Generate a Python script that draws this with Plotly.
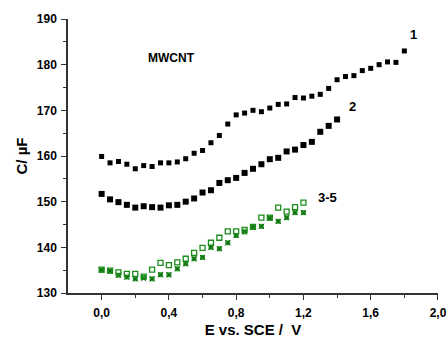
import plotly.graph_objects as go

x1 = [round(0.05 * i, 2) for i in range(37)]
c1 = [159.9, 158.5, 158.8, 158.2, 157.2, 157.9, 157.7, 158.5, 158.5, 158.7,
      159.4, 160.6, 161.2, 162.9, 164.5, 167.0, 169.0, 169.4, 170.0, 169.7,
      170.5, 171.3, 171.4, 172.8, 172.7, 173.1, 173.5, 174.8, 176.7, 177.4,
      177.6, 178.7, 179.2, 180.0, 180.6, 180.5, 183.0]

x2 = [round(0.05 * i, 2) for i in range(29)]
c2 = [151.7, 150.5, 149.9, 149.3, 148.7, 149.0, 148.8, 148.7, 149.2, 149.3,
      150.0, 150.7, 152.0, 152.5, 154.1, 154.7, 155.2, 156.3, 157.2, 158.2,
      159.3, 159.6, 161.0, 161.4, 162.4, 163.1, 165.3, 166.6, 168.0]

x3 = [round(0.05 * i, 2) for i in range(25)]
c3 = [135.1, 134.9, 134.5, 134.2, 134.2, 133.6, 135.1, 136.6, 136.1, 136.7,
      137.5, 138.8, 139.9, 141.0, 142.1, 143.5, 143.5, 143.8, 144.5, 146.5,
      146.5, 148.7, 147.8, 148.8, 149.8]
c4 = [135.0, 134.8, 133.9, 133.5, 133.1, 133.4, 133.1, 134.0, 134.0, 135.3,
      136.4, 137.5, 137.8, 140.0, 139.7, 141.0, 142.6, 143.4, 144.5, 144.6,
      146.4, 145.7, 146.5, 147.6, 147.6]
c5 = [135.0, 134.8, 133.9, 133.5, 133.1, 133.1, 133.1, 134.0, 134.0, 135.3,
      136.4, 137.5, 137.8, 140.0, 139.7, 141.0, 142.6, 143.4, 144.5, 144.6,
      146.4, 145.7, 146.5, 147.6, 147.6]

x_ticks = [0, 0.4, 0.8, 1.2, 1.6, 2.0]
labels = {"1": (1.853, 186.7), "2": (1.491, 170.75), "3-5": (1.341, 151.0)}

green = "#1a8c1a"
fam = "Liberation Sans, Arial, sans-serif"
fig = go.Figure()
fig.add_trace(go.Scatter(x=x1, y=c1, mode="markers",
                         marker=dict(symbol="square", size=5, color="black")))
fig.add_trace(go.Scatter(x=x2, y=c2, mode="markers",
                         marker=dict(symbol="square", size=6, color="black")))
fig.add_trace(go.Scatter(x=x3, y=c4, mode="markers",
                         marker=dict(symbol="square", size=5, color="#2a9a2a")))
fig.add_trace(go.Scatter(x=x3, y=c5, mode="markers",
                         marker=dict(symbol="x-thin-open", size=5, color="#0a5a0a",
                                     line=dict(color="#0a5a0a", width=1))))
fig.add_trace(go.Scatter(x=x3, y=c3, mode="markers",
                         marker=dict(symbol="square-open", size=5, color=green,
                                     line=dict(width=1.3))))

for t, (ax, ay) in labels.items():
    fig.add_annotation(x=ax, y=ay, text="<b>%s</b>" % t, showarrow=False,
                       font=dict(family=fam, size=13, color="black"))
fig.add_annotation(x=0.416, y=181.5, text="<b>MWCNT</b>", showarrow=False,
                   font=dict(family=fam, size=12, color="black"))

axis_common = dict(showline=True, linecolor="#333333", linewidth=1.5,
                   ticks="outside", ticklen=5, tickwidth=1.2, tickcolor="#333333",
                   showgrid=False, zeroline=False, mirror=False, automargin=False,
                   ticklabeloverflow="allow",
                   tickfont=dict(family=fam, size=12, color="black", weight="bold"))

fig.update_xaxes(range=[-0.2, 2.0001], tickvals=x_ticks,
                 tickformat=".1f", ticklabelstandoff=3,
                 minor=dict(tickvals=[0.2, 0.6, 1.0, 1.4, 1.8], ticks="outside",
                            ticklen=3, tickcolor="#333333"),
                 title=dict(text="<b>E vs. SCE /  V</b>", standoff=15,
                            font=dict(family=fam, size=15, color="black")),
                 **axis_common)
fig.update_yaxes(range=[130, 190], dtick=10, ticklabelstandoff=2,
                 minor=dict(dtick=5, ticks="outside", ticklen=3, tickcolor="#333333"),
                 title=dict(text="<b>C/ µF</b>", standoff=6,
                            font=dict(family=fam, size=15, color="black")),
                 **axis_common)
fig.update_layout(width=446, height=338, showlegend=False,
                  separators=", ",
                  plot_bgcolor="white", paper_bgcolor="white",
                  margin=dict(l=68, r=8, t=19, b=45))
fig.write_html("out.html")
